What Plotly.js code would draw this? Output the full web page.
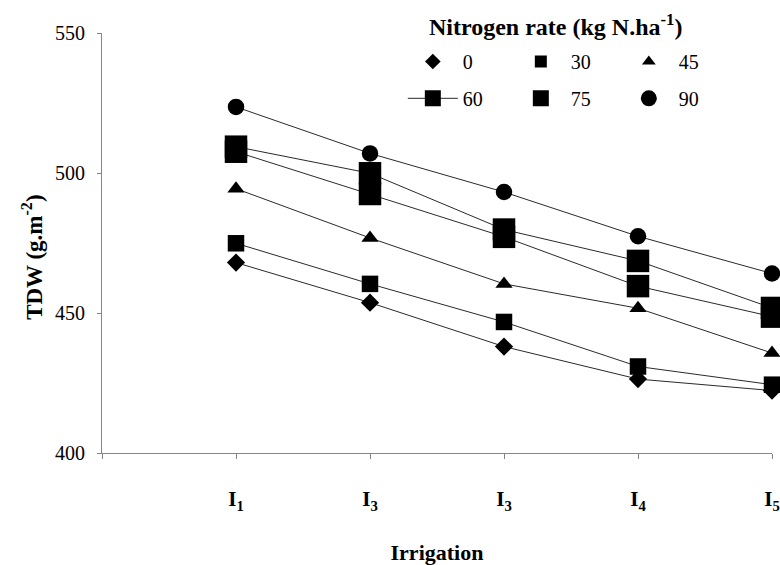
<!DOCTYPE html>
<html>
<head>
<meta charset="utf-8">
<script src="https://cdn.plot.ly/plotly-3.0.1.min.js"></script>
<style>
  html, body { margin: 0; padding: 0; background: #fff; }
  #chart { width: 780px; height: 565px; }
</style>
</head>
<body>
<div id="chart"></div>
<script>
// ---- data ----
const irrigationLabels = ['I1', 'I3', 'I3', 'I4', 'I5'];   // labels as printed
const irrigationPos = [1, 2, 3, 4, 5];
const nitrogenRates = ['0', '30', '45', '60', '75', '90'];
const tdw0  = [468.0, 453.7, 438.0, 426.4, 422.3];
const tdw30 = [474.9, 460.4, 446.8, 430.9, 424.4];
const tdw45 = [494.4, 476.8, 460.4, 451.7, 435.7];
const tdw60 = [507.6, 492.5, 477.2, 459.6, 448.7];
const tdw75 = [509.4, 499.9, 479.8, 468.6, 451.8];
const tdw90 = [523.6, 507.0, 493.2, 477.4, 464.1];
const yTicks = [400, 450, 500, 550];

const seriesValues = [tdw0, tdw30, tdw45, tdw60, tdw75, tdw90];
const symbols = ['diamond', 'square', 'triangle-up', 'square', 'square', 'circle'];
const sizes = [14, 16.5, 15, 22.5, 22.5, 16.5];
const legendIds = ['legend', 'legend', 'legend', 'legend2', 'legend2', 'legend2'];

const FONT = '"Liberation Serif", "Times New Roman", Times, serif';
const lineColor = '#2a2a2a';

const traces = [];
// trend lines (drawn first, behind markers)
seriesValues.forEach((vals, i) => {
  if (i === 3) return;
  traces.push({
    type: 'scatter', mode: 'lines', x: irrigationPos, y: vals,
    line: { color: lineColor, width: 1 }, showlegend: false, hoverinfo: 'skip',
    cliponaxis: false
  });
});
// marker series
seriesValues.forEach((vals, i) => {
  traces.push({
    type: 'scatter', mode: i === 3 ? 'lines+markers' : 'markers',
    name: nitrogenRates[i], x: irrigationPos, y: vals,
    marker: { symbol: symbols[i], size: sizes[i], color: '#000', line: { width: 0 } },
    line: { color: lineColor, width: 1 },
    legend: legendIds[i], cliponaxis: false
  });
});

const axisGrey = '#868686';
const legendCommon = {
  orientation: 'h', xanchor: 'left', yanchor: 'middle',
  font: { family: FONT, size: 20, color: '#000' },
  bgcolor: 'rgba(0,0,0,0)', borderwidth: 0,
  itemwidth: 50, entrywidth: 43, entrywidthmode: 'pixels',
  traceorder: 'normal'
};

const layout = {
  width: 780, height: 565,
  margin: { l: 102, r: 8, t: 33, b: 112 },
  paper_bgcolor: '#fff', plot_bgcolor: '#fff',
  font: { family: FONT, color: '#000', size: 20 },
  showlegend: true,
  legend: Object.assign({}, legendCommon, { x: 0.449, y: 0.932, itemsizing: 'constant' }),
  legend2: Object.assign({}, legendCommon, { x: 0.449, y: 0.8445, itemsizing: 'trace' }),
  xaxis: {
    range: [0, 5], showgrid: false, zeroline: false,
    showline: true, linecolor: axisGrey, linewidth: 1,
    ticks: 'outside', ticklen: 5, tickcolor: axisGrey, tickwidth: 1,
    tickvals: [0].concat(irrigationPos),
    ticktext: [''].concat(irrigationLabels.map(s => '<b>I<sub>' + s.slice(1) + '</sub></b>')),
    tickfont: { family: FONT, size: 21, color: '#000' },
    ticklabelstandoff: 22,
    title: { text: '<b>Irrigation</b>', font: { family: FONT, size: 22, color: '#000' }, standoff: 42 }
  },
  yaxis: {
    range: [400, 550], showgrid: false, zeroline: false,
    showline: true, linecolor: axisGrey, linewidth: 1,
    ticks: 'outside', ticklen: 4, tickcolor: axisGrey, tickwidth: 1,
    tickvals: yTicks,
    tickfont: { family: FONT, size: 20, color: '#000' },
    ticklabelstandoff: 8
  },
  annotations: [{
    xref: 'paper', yref: 'paper', x: 0.485, y: 1.019, xanchor: 'left', yanchor: 'middle',
    text: '<b>Nitrogen rate (kg N.ha<sup>-1</sup>)</b>', showarrow: false,
    font: { family: FONT, size: 24, color: '#000' }
  }, {
    xref: 'paper', yref: 'paper', x: -0.103, y: 0.467, xanchor: 'center', yanchor: 'middle',
    textangle: -90,
    text: '<b>TDW (g.m<sup>-2</sup>)</b>', showarrow: false,
    font: { family: FONT, size: 23, color: '#000' }
  }]
};

Plotly.newPlot('chart', traces, layout, { displayModeBar: false, staticPlot: true });
</script>
</body>
</html>
